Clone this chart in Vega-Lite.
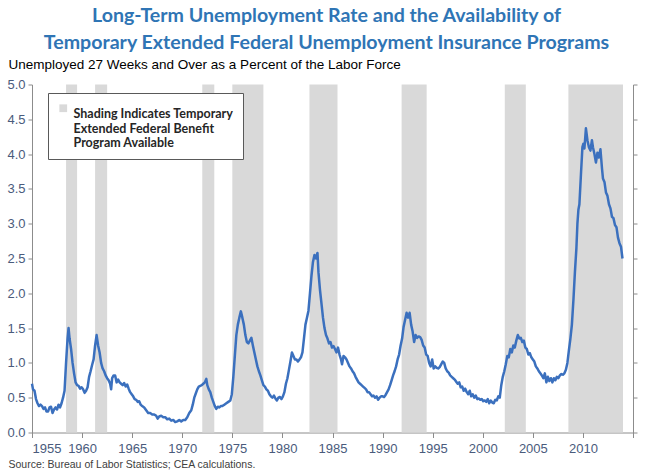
{
  "$schema": "https://vega.github.io/schema/vega-lite/v6.json",
  "width": 601,
  "height": 348,
  "autosize": {"type": "none"},
  "padding": {"left": 32, "top": 84.5, "right": 17, "bottom": 38.5},
  "background": "white",
  "title": {
    "text": ["Long-Term Unemployment Rate and the Availability of", "Temporary Extended Federal Unemployment Insurance Programs"],
    "anchor": "middle",
    "font": "Lato",
    "fontSize": 19.6,
    "fontWeight": "bold",
    "color": "#2F75B5",
    "lineHeight": 27,
    "dx": -6,
    "offset": 3
  },
  "config": {
    "view": {"stroke": null},
    "axis": {
      "labelFont": "Liberation Sans",
      "labelFontSize": 13,
      "labelColor": "#4A5B7C",
      "domainColor": "#8C8C8C",
      "tickColor": "#8C8C8C",
      "grid": false
    }
  },
  "datasets": {
    "bands": [
      {"start": 1958.4, "end": 1959.5, "label": "Shading Indicates Temporary|Extended Federal Benefit|Program Available"},
      {"start": 1961.3, "end": 1962.5, "label": "Shading Indicates Temporary|Extended Federal Benefit|Program Available"},
      {"start": 1972.0, "end": 1973.2, "label": "Shading Indicates Temporary|Extended Federal Benefit|Program Available"},
      {"start": 1975.0, "end": 1978.1, "label": "Shading Indicates Temporary|Extended Federal Benefit|Program Available"},
      {"start": 1982.7, "end": 1985.5, "label": "Shading Indicates Temporary|Extended Federal Benefit|Program Available"},
      {"start": 1991.9, "end": 1994.4, "label": "Shading Indicates Temporary|Extended Federal Benefit|Program Available"},
      {"start": 2002.2, "end": 2004.3, "label": "Shading Indicates Temporary|Extended Federal Benefit|Program Available"},
      {"start": 2008.55, "end": 2014.0, "label": "Shading Indicates Temporary|Extended Federal Benefit|Program Available"}
    ],
    "ltu": [
      {"year":1955.0,"rate":0.70},{"year":1955.1,"rate":0.62},{"year":1955.25,"rate":0.60},{"year":1955.4,"rate":0.48},{"year":1955.55,"rate":0.42},{"year":1955.7,"rate":0.38},{"year":1955.85,"rate":0.40},{"year":1956.0,"rate":0.38},{"year":1956.15,"rate":0.34},{"year":1956.3,"rate":0.36},{"year":1956.45,"rate":0.30},{"year":1956.6,"rate":0.30},{"year":1956.75,"rate":0.36},{"year":1956.9,"rate":0.37},{"year":1957.05,"rate":0.28},{"year":1957.2,"rate":0.33},{"year":1957.35,"rate":0.36},{"year":1957.5,"rate":0.33},{"year":1957.65,"rate":0.40},{"year":1957.8,"rate":0.36},{"year":1957.95,"rate":0.42},
      {"year":1958.1,"rate":0.50},{"year":1958.25,"rate":0.60},{"year":1958.4,"rate":1.00},{"year":1958.55,"rate":1.35},{"year":1958.65,"rate":1.50},{"year":1958.75,"rate":1.35},{"year":1958.9,"rate":1.20},{"year":1959.05,"rate":1.00},{"year":1959.2,"rate":0.85},{"year":1959.35,"rate":0.72},{"year":1959.5,"rate":0.68},{"year":1959.65,"rate":0.67},{"year":1959.8,"rate":0.63},{"year":1959.95,"rate":0.65},
      {"year":1960.1,"rate":0.62},{"year":1960.25,"rate":0.57},{"year":1960.4,"rate":0.60},{"year":1960.55,"rate":0.65},{"year":1960.7,"rate":0.80},{"year":1960.85,"rate":0.88},{"year":1961.0,"rate":0.97},{"year":1961.15,"rate":1.05},{"year":1961.3,"rate":1.25},{"year":1961.45,"rate":1.40},{"year":1961.6,"rate":1.25},{"year":1961.75,"rate":1.15},{"year":1961.9,"rate":1.00},{"year":1962.05,"rate":0.92},{"year":1962.2,"rate":0.88},{"year":1962.35,"rate":0.82},{"year":1962.5,"rate":0.78},{"year":1962.65,"rate":0.75},{"year":1962.8,"rate":0.70},{"year":1962.9,"rate":0.62},
      {"year":1963.0,"rate":0.78},{"year":1963.15,"rate":0.82},{"year":1963.3,"rate":0.82},{"year":1963.45,"rate":0.72},{"year":1963.6,"rate":0.76},{"year":1963.75,"rate":0.72},{"year":1963.9,"rate":0.70},{"year":1964.05,"rate":0.68},{"year":1964.2,"rate":0.71},{"year":1964.35,"rate":0.66},{"year":1964.5,"rate":0.69},{"year":1964.65,"rate":0.63},{"year":1964.8,"rate":0.58},{"year":1964.95,"rate":0.55},
      {"year":1965.1,"rate":0.52},{"year":1965.25,"rate":0.48},{"year":1965.4,"rate":0.47},{"year":1965.55,"rate":0.44},{"year":1965.7,"rate":0.45},{"year":1965.85,"rate":0.40},{"year":1966.0,"rate":0.38},{"year":1966.2,"rate":0.36},{"year":1966.4,"rate":0.32},{"year":1966.6,"rate":0.28},{"year":1966.8,"rate":0.28},{"year":1967.0,"rate":0.26},{"year":1967.2,"rate":0.26},{"year":1967.4,"rate":0.24},{"year":1967.55,"rate":0.20},{"year":1967.7,"rate":0.23},{"year":1967.9,"rate":0.24},
      {"year":1968.1,"rate":0.22},{"year":1968.3,"rate":0.22},{"year":1968.5,"rate":0.19},{"year":1968.7,"rate":0.20},{"year":1968.9,"rate":0.17},{"year":1969.1,"rate":0.18},{"year":1969.3,"rate":0.15},{"year":1969.5,"rate":0.16},{"year":1969.7,"rate":0.18},{"year":1969.9,"rate":0.16},
      {"year":1970.1,"rate":0.18},{"year":1970.3,"rate":0.18},{"year":1970.5,"rate":0.22},{"year":1970.7,"rate":0.28},{"year":1970.9,"rate":0.32},{"year":1971.05,"rate":0.40},{"year":1971.2,"rate":0.50},{"year":1971.35,"rate":0.56},{"year":1971.5,"rate":0.62},{"year":1971.65,"rate":0.66},{"year":1971.8,"rate":0.67},{"year":1971.95,"rate":0.68},
      {"year":1972.1,"rate":0.70},{"year":1972.25,"rate":0.72},{"year":1972.4,"rate":0.77},{"year":1972.5,"rate":0.68},{"year":1972.65,"rate":0.62},{"year":1972.8,"rate":0.58},{"year":1972.95,"rate":0.50},{"year":1973.1,"rate":0.44},{"year":1973.25,"rate":0.38},{"year":1973.4,"rate":0.34},{"year":1973.55,"rate":0.37},{"year":1973.7,"rate":0.36},{"year":1973.85,"rate":0.38},
      {"year":1974.0,"rate":0.38},{"year":1974.2,"rate":0.40},{"year":1974.4,"rate":0.42},{"year":1974.6,"rate":0.44},{"year":1974.8,"rate":0.46},{"year":1974.95,"rate":0.55},{"year":1975.1,"rate":0.80},{"year":1975.25,"rate":1.10},{"year":1975.4,"rate":1.40},{"year":1975.55,"rate":1.55},{"year":1975.7,"rate":1.65},{"year":1975.85,"rate":1.74},
      {"year":1976.0,"rate":1.65},{"year":1976.15,"rate":1.55},{"year":1976.3,"rate":1.40},{"year":1976.45,"rate":1.30},{"year":1976.6,"rate":1.28},{"year":1976.75,"rate":1.32},{"year":1976.9,"rate":1.36},{"year":1977.05,"rate":1.25},{"year":1977.2,"rate":1.15},{"year":1977.35,"rate":1.05},{"year":1977.5,"rate":0.95},{"year":1977.65,"rate":0.88},{"year":1977.8,"rate":0.82},{"year":1977.95,"rate":0.75},
      {"year":1978.1,"rate":0.68},{"year":1978.25,"rate":0.66},{"year":1978.4,"rate":0.62},{"year":1978.55,"rate":0.60},{"year":1978.7,"rate":0.55},{"year":1978.85,"rate":0.52},{"year":1979.0,"rate":0.50},{"year":1979.15,"rate":0.53},{"year":1979.3,"rate":0.49},{"year":1979.45,"rate":0.46},{"year":1979.6,"rate":0.50},{"year":1979.75,"rate":0.51},{"year":1979.9,"rate":0.48},
      {"year":1980.05,"rate":0.52},{"year":1980.2,"rate":0.58},{"year":1980.35,"rate":0.70},{"year":1980.5,"rate":0.78},{"year":1980.65,"rate":0.90},{"year":1980.8,"rate":1.02},{"year":1980.95,"rate":1.15},{"year":1981.1,"rate":1.10},{"year":1981.25,"rate":1.05},{"year":1981.4,"rate":1.05},{"year":1981.55,"rate":1.02},{"year":1981.7,"rate":1.05},{"year":1981.85,"rate":1.08},
      {"year":1982.0,"rate":1.15},{"year":1982.15,"rate":1.35},{"year":1982.3,"rate":1.55},{"year":1982.45,"rate":1.65},{"year":1982.6,"rate":1.75},{"year":1982.75,"rate":2.00},{"year":1982.9,"rate":2.25},{"year":1983.05,"rate":2.45},{"year":1983.2,"rate":2.55},{"year":1983.35,"rate":2.50},{"year":1983.5,"rate":2.58},{"year":1983.6,"rate":2.30},{"year":1983.75,"rate":2.05},{"year":1983.9,"rate":1.85},
      {"year":1984.05,"rate":1.65},{"year":1984.2,"rate":1.50},{"year":1984.35,"rate":1.40},{"year":1984.5,"rate":1.35},{"year":1984.65,"rate":1.28},{"year":1984.8,"rate":1.30},{"year":1984.95,"rate":1.22},{"year":1985.1,"rate":1.24},{"year":1985.25,"rate":1.20},{"year":1985.4,"rate":1.15},{"year":1985.55,"rate":1.22},{"year":1985.7,"rate":1.12},{"year":1985.85,"rate":1.05},{"year":1985.95,"rate":0.98},
      {"year":1986.1,"rate":1.10},{"year":1986.25,"rate":1.08},{"year":1986.4,"rate":1.05},{"year":1986.55,"rate":1.00},{"year":1986.7,"rate":0.95},{"year":1986.85,"rate":0.92},{"year":1987.0,"rate":0.88},{"year":1987.15,"rate":0.85},{"year":1987.3,"rate":0.80},{"year":1987.45,"rate":0.76},{"year":1987.6,"rate":0.72},{"year":1987.75,"rate":0.70},{"year":1987.9,"rate":0.68},
      {"year":1988.05,"rate":0.66},{"year":1988.2,"rate":0.64},{"year":1988.35,"rate":0.62},{"year":1988.5,"rate":0.58},{"year":1988.65,"rate":0.58},{"year":1988.8,"rate":0.55},{"year":1988.95,"rate":0.52},{"year":1989.1,"rate":0.53},{"year":1989.25,"rate":0.50},{"year":1989.4,"rate":0.52},{"year":1989.55,"rate":0.47},{"year":1989.7,"rate":0.50},{"year":1989.85,"rate":0.52},
      {"year":1990.0,"rate":0.52},{"year":1990.15,"rate":0.51},{"year":1990.3,"rate":0.54},{"year":1990.45,"rate":0.58},{"year":1990.6,"rate":0.62},{"year":1990.75,"rate":0.68},{"year":1990.9,"rate":0.75},{"year":1991.05,"rate":0.82},{"year":1991.2,"rate":0.88},{"year":1991.35,"rate":0.95},{"year":1991.5,"rate":1.05},{"year":1991.65,"rate":1.12},{"year":1991.8,"rate":1.25},{"year":1991.95,"rate":1.35},
      {"year":1992.1,"rate":1.52},{"year":1992.25,"rate":1.62},{"year":1992.4,"rate":1.72},{"year":1992.55,"rate":1.65},{"year":1992.7,"rate":1.72},{"year":1992.85,"rate":1.55},{"year":1993.0,"rate":1.45},{"year":1993.15,"rate":1.30},{"year":1993.3,"rate":1.40},{"year":1993.45,"rate":1.36},{"year":1993.6,"rate":1.38},{"year":1993.75,"rate":1.37},{"year":1993.9,"rate":1.33},
      {"year":1994.05,"rate":1.25},{"year":1994.2,"rate":1.22},{"year":1994.35,"rate":1.12},{"year":1994.5,"rate":1.10},{"year":1994.65,"rate":1.00},{"year":1994.8,"rate":0.95},{"year":1994.95,"rate":1.05},{"year":1995.1,"rate":0.92},{"year":1995.25,"rate":0.95},{"year":1995.4,"rate":0.93},{"year":1995.55,"rate":0.92},{"year":1995.7,"rate":0.94},{"year":1995.85,"rate":0.98},
      {"year":1996.0,"rate":1.02},{"year":1996.15,"rate":1.00},{"year":1996.3,"rate":0.92},{"year":1996.45,"rate":0.88},{"year":1996.6,"rate":0.86},{"year":1996.75,"rate":0.82},{"year":1996.9,"rate":0.80},{"year":1997.05,"rate":0.78},{"year":1997.2,"rate":0.76},{"year":1997.35,"rate":0.73},{"year":1997.5,"rate":0.70},{"year":1997.65,"rate":0.72},{"year":1997.8,"rate":0.65},{"year":1997.95,"rate":0.66},
      {"year":1998.1,"rate":0.60},{"year":1998.25,"rate":0.63},{"year":1998.4,"rate":0.58},{"year":1998.55,"rate":0.55},{"year":1998.7,"rate":0.60},{"year":1998.85,"rate":0.52},{"year":1999.0,"rate":0.55},{"year":1999.15,"rate":0.50},{"year":1999.3,"rate":0.53},{"year":1999.45,"rate":0.48},{"year":1999.6,"rate":0.49},{"year":1999.75,"rate":0.47},{"year":1999.9,"rate":0.48},
      {"year":2000.05,"rate":0.45},{"year":2000.2,"rate":0.46},{"year":2000.35,"rate":0.44},{"year":2000.5,"rate":0.48},{"year":2000.65,"rate":0.42},{"year":2000.8,"rate":0.46},{"year":2000.95,"rate":0.43},{"year":2001.1,"rate":0.42},{"year":2001.25,"rate":0.47},{"year":2001.4,"rate":0.46},{"year":2001.55,"rate":0.52},{"year":2001.7,"rate":0.50},{"year":2001.85,"rate":0.68},
      {"year":2002.0,"rate":0.80},{"year":2002.15,"rate":0.88},{"year":2002.3,"rate":0.98},{"year":2002.45,"rate":1.10},{"year":2002.6,"rate":1.08},{"year":2002.75,"rate":1.20},{"year":2002.9,"rate":1.15},{"year":2003.05,"rate":1.25},{"year":2003.2,"rate":1.22},{"year":2003.35,"rate":1.32},{"year":2003.5,"rate":1.40},{"year":2003.65,"rate":1.35},{"year":2003.8,"rate":1.36},{"year":2003.95,"rate":1.30},
      {"year":2004.1,"rate":1.32},{"year":2004.25,"rate":1.22},{"year":2004.4,"rate":1.20},{"year":2004.55,"rate":1.12},{"year":2004.7,"rate":1.14},{"year":2004.85,"rate":1.08},{"year":2005.0,"rate":1.05},{"year":2005.15,"rate":1.02},{"year":2005.3,"rate":0.95},{"year":2005.45,"rate":0.92},{"year":2005.6,"rate":0.88},{"year":2005.75,"rate":0.85},{"year":2005.9,"rate":0.82},
      {"year":2006.05,"rate":0.78},{"year":2006.2,"rate":0.85},{"year":2006.35,"rate":0.72},{"year":2006.5,"rate":0.80},{"year":2006.65,"rate":0.74},{"year":2006.8,"rate":0.78},{"year":2006.95,"rate":0.72},{"year":2007.1,"rate":0.78},{"year":2007.25,"rate":0.75},{"year":2007.4,"rate":0.80},{"year":2007.55,"rate":0.78},{"year":2007.7,"rate":0.82},{"year":2007.85,"rate":0.84},
      {"year":2008.0,"rate":0.83},{"year":2008.15,"rate":0.85},{"year":2008.3,"rate":0.90},{"year":2008.45,"rate":1.00},{"year":2008.6,"rate":1.18},{"year":2008.75,"rate":1.35},{"year":2008.9,"rate":1.55},{"year":2009.05,"rate":1.90},{"year":2009.2,"rate":2.30},{"year":2009.35,"rate":2.65},{"year":2009.45,"rate":3.00},{"year":2009.55,"rate":3.20},{"year":2009.65,"rate":3.28},{"year":2009.8,"rate":3.70},{"year":2009.95,"rate":4.10},
      {"year":2010.05,"rate":4.15},{"year":2010.15,"rate":4.08},{"year":2010.3,"rate":4.37},{"year":2010.45,"rate":4.20},{"year":2010.6,"rate":4.10},{"year":2010.75,"rate":4.05},{"year":2010.9,"rate":4.20},{"year":2011.0,"rate":4.10},{"year":2011.15,"rate":4.00},{"year":2011.3,"rate":3.88},{"year":2011.45,"rate":4.02},{"year":2011.6,"rate":3.95},{"year":2011.75,"rate":4.07},{"year":2011.9,"rate":3.80},
      {"year":2012.0,"rate":3.65},{"year":2012.15,"rate":3.60},{"year":2012.3,"rate":3.45},{"year":2012.45,"rate":3.40},{"year":2012.6,"rate":3.28},{"year":2012.75,"rate":3.22},{"year":2012.9,"rate":3.10},{"year":2013.05,"rate":3.08},{"year":2013.2,"rate":2.98},{"year":2013.35,"rate":2.95},{"year":2013.5,"rate":2.80},{"year":2013.65,"rate":2.72},{"year":2013.8,"rate":2.67},{"year":2013.95,"rate":2.50}
    ]
  },
  "layer": [
    {
      "data": {"name": "bands"},
      "mark": {"type": "rect", "color": "#D9D9D9"},
      "encoding": {
        "x": {
          "field": "start", "type": "quantitative",
          "scale": {"domain": [1955, 2015], "nice": false, "zero": false},
          "axis": {
            "values": [1955, 1960, 1965, 1970, 1975, 1980, 1985, 1990, 1995, 2000, 2005, 2010, 2015],
            "format": "d",
            "labelExpr": "datum.value == 2015 ? '' : datum.label",
            "labelFontSize": 13,
            "tickSize": 5,
            "labelPadding": 5,
            "title": "Source: Bureau of Labor Statistics; CEA calculations.",
            "titleFont": "Liberation Sans",
            "titleFontSize": 10.5,
            "titleFontWeight": "normal",
            "titleColor": "#404040",
            "titleAnchor": "start",
            "titleAlign": "left",
            "titleBaseline": "middle",
            "titleX": -24,
            "titleY": 32
          }
        },
        "x2": {"field": "end"},
        "y": {"datum": 0, "type": "quantitative", "scale": {"domain": [0, 5], "nice": false},
          "axis": {"orient": "right", "labels": false, "title": null, "tickSize": 4, "values": [0, 0.5, 1, 1.5, 2, 2.5, 3, 3.5, 4, 4.5, 5]}},
        "y2": {"datum": 5},
        "color": {
          "field": "label", "type": "nominal",
          "scale": {"range": ["#D9D9D9"]},
          "legend": {
            "title": null,
            "orient": "none",
            "legendX": 16,
            "legendY": 8.5,
            "symbolType": "square",
            "symbolSize": 60,
            "symbolStrokeWidth": 0,
            "labelExpr": "split(datum.label, '|')",
            "labelFont": "Lato",
            "labelFontWeight": "bold",
            "labelFontSize": 12.5,
            "labelLineHeight": 16,
            "labelColor": "#262626",
            "labelBaseline": "top",
            "labelLimit": 400,
            "fillColor": "white",
            "strokeColor": "#595959",
            "padding": 9
          }
        }
      }
    },
    {
      "data": {"name": "ltu"},
      "mark": {"type": "line", "color": "#3B70BE", "strokeWidth": 2.5, "strokeJoin": "round"},
      "encoding": {
        "x": {"field": "year", "type": "quantitative"},
        "y": {
          "field": "rate", "type": "quantitative",
          "axis": {
            "orient": "left",
            "values": [0, 0.5, 1, 1.5, 2, 2.5, 3, 3.5, 4, 4.5, 5],
            "format": ".1f",
            "tickSize": 4,
            "labelPadding": 3,
            "title": "Unemployed 27 Weeks and Over as a Percent of the Labor Force",
            "titleFont": "Liberation Sans",
            "titleFontSize": 13.5,
            "titleFontWeight": "normal",
            "titleColor": "#000000",
            "titleAngle": 0,
            "titleAlign": "left",
            "titleBaseline": "middle",
            "titleX": -24,
            "titleY": -20.5
          }
        }
      }
    }
  ],
  "resolve": {"axis": {"y": "independent"}}
}
